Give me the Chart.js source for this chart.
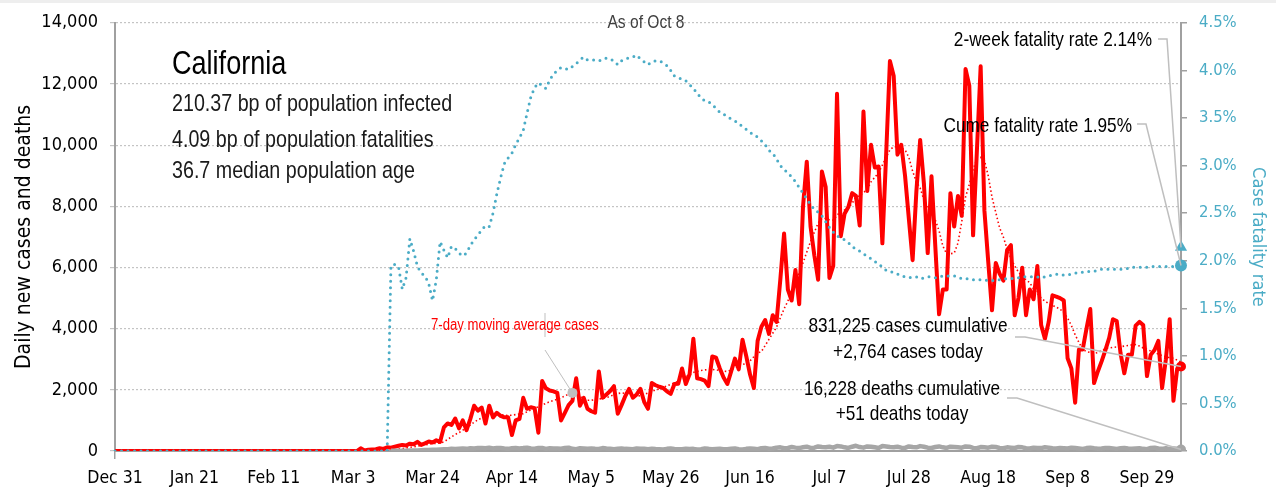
<!DOCTYPE html>
<html>
<head>
<meta charset="utf-8">
<title>California</title>
<script src="https://cdn.jsdelivr.net/npm/chart.js@4.4.1/dist/chart.umd.min.js"></script>
<style>
  html, body { margin: 0; padding: 0; background: #fff; }
  #wrap { width: 1276px; height: 493px; }
</style>
</head>
<body>
<div id="wrap"><canvas id="chart" width="1276" height="493"></canvas></div>
<script>
/* California - daily cases, deaths and case fatality rate */

const FONT = '"DejaVu Sans Condensed", "Liberation Sans Narrow", sans-serif';
const NOTE_FONT = '"Liberation Sans", Arial, sans-serif';
const NARROW = 0.82; // notes are drawn squeezed to look condensed
const red = '#ff0000';
const teal = '#4bacc6';
const gray = '#a6a6a6';
const axisGray = '#a0a0a0';
const noteGray = '#bfbfbf';

// x axis: one point per day, Dec 31 .. Oct 8
const startDate = Date.UTC(2019, 11, 31);
const months = ['Jan', 'Feb', 'Mar', 'Apr', 'May', 'Jun', 'Jul', 'Aug', 'Sep', 'Oct', 'Nov', 'Dec'];
const tickLabels = ['Dec 31', 'Jan 21', 'Feb 11', 'Mar 3', 'Mar 24', 'Apr 14', 'May 5',
  'May 26', 'Jun 16', 'Jul 7', 'Jul 28', 'Aug 18', 'Sep 8', 'Sep 29'];
const tickEvery = 21;

// daily new cases
const cases = [
  0, 0, 0, 0, 0, 0, 0, 0, 0, 0,
  0, 0, 0, 0, 0, 0, 0, 0, 0, 0,
  0, 0, 0, 0, 0, 0, 0, 0, 0, 0,
  0, 0, 0, 0, 0, 0, 0, 0, 0, 0,
  0, 0, 0, 0, 0, 0, 0, 0, 0, 0,
  0, 0, 0, 0, 0, 0, 0, 0, 0, 0,
  0, 0, 0, 0, 0,
  90, 20, 40, 50, 60, 90, 70, 120, 110, 140,
  170, 200, 180, 240, 220, 300, 200, 250, 310, 280,
  350, 300, 770, 900, 850, 1060, 740, 1000, 680, 1050,
  1480, 1320, 1420, 900, 1480, 1100, 1250, 1150, 1100, 1100,
  520, 1000, 1050, 1740, 1380, 1430, 1400, 600, 2290, 2050,
  1980, 1950, 1900, 1000, 1250, 1500, 1640, 2380, 1480, 1740,
  1380, 1300, 1250, 2600, 1740, 1850, 1960, 2120, 1220, 1500,
  1800, 2030, 1740, 1850, 2030, 1600, 1380, 2220, 2150, 2100,
  2060, 1950, 1870, 2190, 2200, 2700, 2190, 2510, 3670, 2380,
  2350, 2300, 2120, 3090, 3050, 2700, 2400, 2190, 2600, 3020,
  2670, 3640, 3100, 2500, 2060, 3600, 4060, 4280, 3830, 4440,
  4220, 5600, 7110, 5280, 4920, 5920, 4800, 7980, 9460, 7340,
  6400, 5600, 9140, 8630, 5660, 6050, 11680, 7020, 7760, 7980,
  8430, 8340, 7370, 11100, 8500, 10010, 9270, 9300, 6790, 9700,
  12750, 12260, 9690, 10010, 9000, 7600, 6240, 8500, 10170, 8720,
  6470, 8980, 6700, 4470, 5280, 5280, 8430, 7340, 8340, 7690,
  12490, 11940, 7050, 9800, 12580, 7850, 6200, 4600, 6150, 5800,
  5570, 6570, 6730, 4440, 5000, 5990, 4440, 5280, 4960, 6050,
  4120, 3670, 4220, 5090, 5050, 5000, 4920, 3030, 2700, 1580,
  3320, 3320, 4000, 4640, 2220, 2600, 2930, 3300, 3700, 4310,
  4250, 3200, 2540, 3150, 3150, 4100, 4220, 4120, 2450, 3150,
  3300, 3600, 2060, 3000, 4310, 1640, 2700, 2764
];

// 7-day moving average of cases
const movingAvg = [
  0, 0, 0, 0, 0, 0, 0, 0, 0, 0,
  0, 0, 0, 0, 0, 0, 0, 0, 0, 0,
  0, 0, 0, 0, 0, 0, 0, 0, 0, 0,
  0, 0, 0, 0, 0, 0, 0, 0, 0, 0,
  0, 0, 0, 0, 0, 0, 0, 0, 0, 0,
  0, 0, 0, 0, 0, 0, 0, 0, 0, 0,
  0, 0, 0, 0, 0, 0, 0, 0, 0, 0,
  0, 0, 0, 0, 0,
  60, 80, 100, 120, 140, 160, 180, 200, 220, 240,
  250, 260, 300, 380, 460, 540, 600, 680, 760, 850,
  940, 1020, 1080, 1140, 1190, 1220, 1210, 1190, 1170, 1160,
  1170, 1190, 1210, 1220, 1280, 1340, 1400, 1440, 1500, 1560,
  1610, 1650, 1690, 1740, 1800, 1860, 1900, 1860, 1780, 1700,
  1660, 1660, 1680, 1700, 1720, 1740, 1790, 1840, 1880, 1900,
  1880, 1860, 1830, 1810, 1800, 1850, 1900, 1950, 1990, 2030,
  2080, 2130, 2180, 2230, 2280, 2350, 2420, 2500, 2570, 2600,
  2630, 2650, 2670, 2670, 2650, 2630, 2610, 2600, 2650, 2720,
  2780, 2830, 2860, 2950, 3080, 3200, 3250, 3450, 3650, 3850,
  4050, 4350, 4650, 4900, 5200, 5500, 5830, 6150, 6500, 6850,
  7150, 7450, 7600, 7600, 7560, 7550, 7700, 7850, 7880, 7950,
  8100, 8300, 8350, 8450, 8550, 8800, 8950, 9100, 9350, 9600,
  9850, 9950, 9950, 9900, 9850, 9600, 9150, 8800, 8600, 8200,
  8000, 7800, 7550, 7200, 6700, 6450, 6450, 6470, 6800, 7500,
  8300, 8720, 9200, 9550, 9600, 9500, 9000, 8300, 7800, 7300,
  7000, 6600, 6300, 6050, 5850, 5700, 5600, 5500, 5300, 5150,
  5000, 4900, 4820, 4760, 4700, 4640, 4520, 4350, 4100, 3800,
  3550, 3320, 3250, 3220, 3190, 3220, 3280, 3350, 3370, 3390,
  3400, 3410, 3430, 3450, 3470, 3480, 3430, 3370, 3320, 3270,
  3220, 3170, 3120, 3080, 3050, 3030, 2970, 2900
];

// daily new deaths (series starts Mar 13)
const deaths = [
  null, null, null, null, null, null, null, null, null, null,
  null, null, null, null, null, null, null, null, null, null,
  null, null, null, null, null, null, null, null, null, null,
  null, null, null, null, null, null, null, null, null, null,
  null, null, null, null, null, null, null, null, null, null,
  null, null, null, null, null, null, null, null, null, null,
  null, null, null, null, null, null, null, null, null, null,
  null, null, null,
  5, 6, 8, 10, 12, 15, 18,
  20, 25, 30, 35, 40, 45, 50, 55, 60, 70, 65, 75, 80, 70, 90, 85, 95, 100, 90, 110,
  85, 100, 95, 80, 70, 90, 100, 85, 95, 110, 80, 75, 95, 100, 70, 90, 85, 80, 75, 95, 110, 70, 60, 90, 85, 75, 80, 70, 65, 95,
  80, 70, 60, 75, 85, 70, 65, 55, 80, 75, 70, 60, 75, 65, 60, 50, 70, 80, 65, 55, 60, 75, 65, 70, 50, 60, 80, 70, 55, 65,
  70, 60, 55, 75, 85, 60, 50, 70, 80, 75, 60, 90, 100, 75, 80, 110, 120, 90, 100, 130, 110, 95, 120, 140, 100, 110, 150, 130, 120, 140,
  110, 160, 150, 120, 100, 140, 170, 130, 110, 150, 140, 120, 100, 160, 150, 130, 120, 140, 110, 100, 150, 130, 120, 160, 140, 110, 100, 130, 150, 120,
  100, 140, 130, 120, 110, 150, 140, 100, 90, 130, 120, 110, 140, 130, 100, 90, 120, 110, 100, 130, 120, 90, 80, 110, 100, 95, 120, 110, 90, 80,
  100, 90, 80, 110, 100, 85, 70, 95, 110, 90, 75, 80, 100, 95, 85, 70, 90, 100, 80, 75, 85, 90, 70, 60, 100, 110, 80, 70, 90, 60, 80, 70, 51
];

// cumulative case fatality rate, %
const fatalityRate = [
  0, 0, 0, 0, 0, 0, 0, 0, 0, 0,
  0, 0, 0, 0, 0, 0, 0, 0, 0, 0,
  0, 0, 0, 0, 0, 0, 0, 0, 0, 0,
  0, 0, 0, 0, 0, 0, 0, 0, 0, 0,
  0, 0, 0, 0, 0, 0, 0, 0, 0, 0,
  0, 0, 0, 0, 0, 0, 0, 0, 0, 0,
  0, 0, 0, 0, 0, 0, 0, 0, 0, 0,
  0, 0, 0,
  1.95, 1.96, 1.94, 1.70, 1.82, 2.23, 2.10, 1.94, 1.87, 1.84,
  1.76, 1.58, 1.80, 2.20, 2.11, 2.03, 2.15, 2.13, 2.08, 2.05,
  2.08, 2.16, 2.22, 2.27, 2.32, 2.37, 2.36, 2.50, 2.70, 2.87,
  3.02, 3.08, 3.13, 3.22, 3.29, 3.37, 3.55, 3.72, 3.82, 3.87,
  3.84, 3.81, 3.90, 3.96, 4.00, 4.03, 4.02, 4.01, 4.04, 4.07,
  4.11, 4.14, 4.11, 4.11, 4.11, 4.10, 4.11, 4.13, 4.12, 4.10,
  4.06, 4.10, 4.12, 4.13, 4.14, 4.16, 4.12, 4.09, 4.06, 4.09,
  4.10, 4.10, 4.08, 4.05, 4.00, 3.94, 3.92, 3.91, 3.89, 3.85,
  3.81, 3.76, 3.71, 3.68, 3.67, 3.64, 3.60, 3.56, 3.54, 3.51,
  3.49, 3.47, 3.44, 3.41, 3.38, 3.35, 3.32, 3.30, 3.26, 3.22,
  3.16, 3.13, 3.07, 3.00, 2.96, 2.92, 2.88, 2.83, 2.77, 2.71,
  2.65, 2.59, 2.54, 2.51, 2.47, 2.41, 2.35, 2.30, 2.26, 2.24,
  2.22, 2.19, 2.15, 2.12, 2.10, 2.07, 2.05, 2.02, 1.99, 1.97,
  1.93, 1.90, 1.89, 1.87, 1.86, 1.84, 1.83, 1.82, 1.83, 1.83,
  1.81, 1.82, 1.83, 1.83, 1.82, 1.83, 1.84, 1.84, 1.84, 1.84,
  1.83, 1.81, 1.81, 1.81, 1.80, 1.80, 1.80, 1.80, 1.79, 1.79,
  1.80, 1.80, 1.81, 1.81, 1.81, 1.82, 1.82, 1.83, 1.83, 1.83,
  1.83, 1.83, 1.82, 1.83, 1.84, 1.85, 1.86, 1.85, 1.85, 1.85,
  1.86, 1.87, 1.87, 1.88, 1.88, 1.89, 1.89, 1.90, 1.91, 1.91,
  1.91, 1.91, 1.91, 1.91, 1.91, 1.92, 1.93, 1.93, 1.93, 1.93,
  1.93, 1.94, 1.94, 1.94, 1.94, 1.94, 1.94, 1.94, 1.95, 1.95
];

const twoWeekRate = 2.14;
const maNoteDay = 121;

const last = cases.length - 1;
const dayLabels = cases.map((_, i) => {
  const d = new Date(startDate + i * 86400000);
  return months[d.getUTCMonth()] + ' ' + d.getUTCDate();
});
const twoWeekData = cases.map((_, i) => (i === last ? twoWeekRate : null));
const endPoint = r => c => (c.dataIndex === last ? r : 0);

function line(ctx, pts, color, width) {
  ctx.save();
  ctx.strokeStyle = color;
  ctx.lineWidth = width;
  ctx.beginPath();
  ctx.moveTo(pts[0][0], pts[0][1]);
  for (let i = 1; i < pts.length; i++) ctx.lineTo(pts[i][0], pts[i][1]);
  ctx.stroke();
  ctx.restore();
}

function text(ctx, str, x, y, size, color, align) {
  ctx.save();
  ctx.translate(x, y);
  ctx.scale(NARROW, 1);
  ctx.font = size + 'px ' + NOTE_FONT;
  ctx.fillStyle = color;
  ctx.textAlign = align || 'left';
  ctx.textBaseline = 'alphabetic';
  ctx.fillText(str, 0, 0);
  ctx.restore();
}

// Arka plan, etiketler ve oklar
const notes = {
  id: 'notes',
  beforeDraw(chart) {
    const {ctx} = chart;
    ctx.save();
    ctx.fillStyle = '#fff';
    ctx.fillRect(0, 0, chart.width, chart.height);
    ctx.fillStyle = '#eeeeee';
    ctx.fillRect(0, 0, chart.width, 3);
    ctx.restore();
  },
  afterDatasetsDraw(chart) {
    const {ctx, scales: {x, y, y1}} = chart;
    const xe = x.getPixelForValue(last);

    // leader lines to the end markers
    line(ctx, [[1158, 39], [1167, 39], [xe, y1.getPixelForValue(twoWeekRate)]], noteGray, 1.5);
    line(ctx, [[1137, 124], [1146, 124], [xe, y1.getPixelForValue(fatalityRate[last])]], noteGray, 1.5);
    line(ctx, [[1015, 337], [1025, 337], [xe, y.getPixelForValue(cases[last])]], noteGray, 1.5);
    line(ctx, [[1007, 398], [1017, 398], [xe, y.getPixelForValue(deaths[last])]], noteGray, 1.5);

    // moving average callout
    const mx = x.getPixelForValue(maNoteDay);
    const my = y.getPixelForValue(movingAvg[maNoteDay]);
    line(ctx, [[545, 313], [545, 337]], noteGray, 1);
    line(ctx, [[545, 350], [mx, my]], noteGray, 1);
    ctx.save();
    ctx.fillStyle = noteGray;
    ctx.beginPath();
    ctx.arc(mx, my, 5, 0, Math.PI * 2);
    ctx.fill();
    ctx.restore();

    text(ctx, '7-day moving average cases', 431, 330, 16, red);
    text(ctx, 'As of Oct 8', 646, 28, 19, '#404040', 'center');

    text(ctx, 'California', 172, 74, 33, '#000');
    text(ctx, '210.37 bp of population infected', 172, 111, 24, '#1a1a1a');
    text(ctx, '4.09 bp of population fatalities', 172, 147, 24, '#1a1a1a');
    text(ctx, '36.7 median population age', 172, 178, 24, '#1a1a1a');

    text(ctx, '2-week fatality rate 2.14%', 1152, 46, 21, '#000', 'right');
    text(ctx, 'Cume fatality rate 1.95%', 1132, 132, 21, '#000', 'right');
    text(ctx, '831,225 cases cumulative', 908, 332, 21, '#000', 'center');
    text(ctx, '+2,764 cases today', 908, 358, 21, '#000', 'center');
    text(ctx, '16,228 deaths cumulative', 902, 395, 21, '#000', 'center');
    text(ctx, '+51 deaths today', 902, 420, 21, '#000', 'center');
  }
};

Chart.defaults.font.family = FONT;
Chart.defaults.color = '#000';

new Chart(document.getElementById('chart'), {
  type: 'line',
  data: {
    labels: dayLabels,
    datasets: [
      {
        label: 'Case fatality rate',
        data: fatalityRate,
        yAxisID: 'y1',
        borderColor: teal,
        borderWidth: 3,
        borderDash: [0, 6.5],
        borderCapStyle: 'round',
        pointRadius: endPoint(6),
        pointBackgroundColor: teal,
        pointBorderWidth: 0,
        order: 0,
      },
      {
        label: '2-week fatality rate',
        data: twoWeekData,
        yAxisID: 'y1',
        showLine: false,
        pointStyle: 'triangle',
        pointRadius: 7,
        pointBackgroundColor: teal,
        pointBorderColor: teal,
        pointBorderWidth: 0,
        order: 0,
      },
      {
        label: 'Daily deaths',
        data: deaths,
        yAxisID: 'y',
        borderColor: gray,
        borderWidth: 4.5,
        borderJoinStyle: 'round',
        pointRadius: endPoint(5),
        pointBackgroundColor: gray,
        pointBorderWidth: 0,
        order: 1,
      },
      {
        label: '7-day moving average cases',
        data: movingAvg,
        yAxisID: 'y',
        borderColor: red,
        borderWidth: 1.6,
        borderDash: [1.5, 2.5],
        pointRadius: 0,
        order: 2,
      },
      {
        label: 'Daily new cases',
        data: cases,
        yAxisID: 'y',
        borderColor: red,
        borderWidth: 4,
        borderJoinStyle: 'round',
        pointRadius: endPoint(5),
        pointBackgroundColor: red,
        pointBorderWidth: 0,
        order: 3,
      },
    ]
  },
  options: {
    responsive: false,
    animation: false,
    devicePixelRatio: 1,
    layout: { padding: { top: 16, left: 0, right: 0, bottom: 0 } },
    plugins: { legend: { display: false }, tooltip: { enabled: false } },
    elements: { line: { tension: 0 } },
    scales: {
      x: {
        type: 'category',
        offset: false,
        ticks: {
          autoSkip: false, maxRotation: 0, minRotation: 0, padding: 9,
          color: '#000', font: { size: 17.5 },
          callback: (v, i) => (i % tickEvery === 0 ? tickLabels[i / tickEvery] : null),
        },
        grid: {
          drawOnChartArea: false, drawTicks: true, tickLength: 8, lineWidth: 1.5,
          color: c => (c.index % tickEvery === 0 ? axisGray : 'rgba(0,0,0,0)'),
        },
        border: { display: true, color: axisGray, width: 2 },
        afterFit: s => { s.height = 42; },
      },
      y: {
        position: 'left',
        min: 0, max: 14000,
        ticks: {
          stepSize: 2000, padding: 12, color: '#000', font: { size: 18 },
          callback: v => v.toLocaleString('en-US'),
        },
        grid: { color: '#c4c4c4', lineWidth: 1.2, tickLength: 5 },
        border: { display: true, color: axisGray, width: 2, dash: [2, 2] },
        title: {
          display: true, text: 'Daily new cases and deaths', color: '#000',
          font: { size: 21 }, padding: { top: 12, bottom: 0 },
        },
        afterFit: s => { s.width = 115; },
      },
      y1: {
        position: 'right',
        min: 0, max: 4.5,
        ticks: {
          stepSize: 0.5, padding: 12, color: teal, font: { size: 16.5 },
          callback: v => v.toFixed(1) + '%',
        },
        grid: { drawOnChartArea: false, tickLength: 6, color: axisGray, lineWidth: 1.5 },
        border: { display: true, color: axisGray, width: 2 },
        title: {
          display: true, text: 'Case fatality rate', color: teal,
          font: { size: 18 }, padding: { top: 8, bottom: 0 },
        },
        afterFit: s => { s.width = 95; },
      },
    },
  },
  plugins: [notes],
});
</script>
</body>
</html>
